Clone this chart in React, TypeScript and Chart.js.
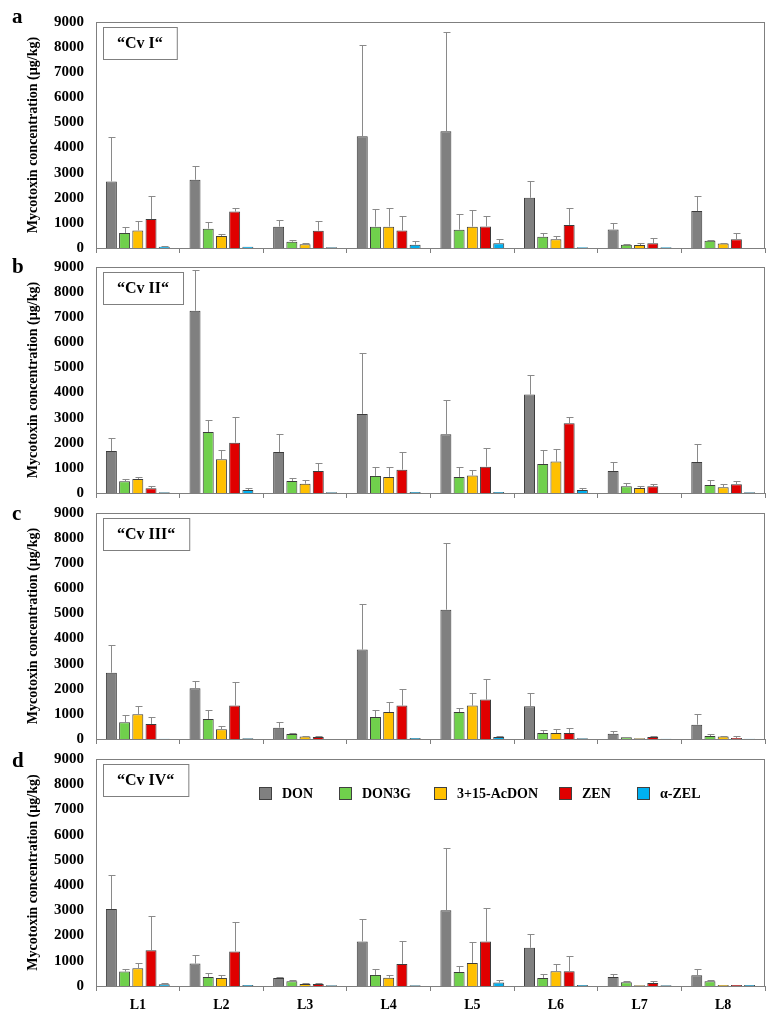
import React, { useEffect, useRef } from 'react';
import { Chart, registerables } from 'chart.js';

Chart.register(...registerables);

const FONT = '"Liberation Serif", "Times New Roman", serif';

// ---------- data ----------
const groups = ['L1', 'L2', 'L3', 'L4', 'L5', 'L6', 'L7', 'L8'];
const seriesNames = ['DON', 'DON3G', '3+15-AcDON', 'ZEN', '\u03b1-ZEL'];
const seriesColors = ['#808080', '#70D04C', '#FFC000', '#E00000', '#00B0F0'];
const yTicks = [0, 1000, 2000, 3000, 4000, 5000, 6000, 7000, 8000, 9000];

// Cv I (panel a): mean values and upper error-bar ends (µg/kg)
const cv1DON = [2650, 2720, 850, 4450, 4650, 2000, 740, 1470];
const cv1DONErr = [4420, 3280, 1130, 8070, 8600, 2670, 1010, 2060];
const cv1DON3G = [600, 770, 250, 850, 730, 450, 130, 290];
const cv1DON3GErr = [850, 1050, 305, 1570, 1370, 610, 160, 305];
const cv1AcDON = [700, 480, 150, 850, 850, 345, 120, 175];
const cv1AcDONErr = [1090, 570, 210, 1590, 1530, 490, 210, 190];
const cv1ZEN = [1150, 1450, 690, 700, 860, 920, 190, 345];
const cv1ZENErr = [2060, 1590, 1090, 1260, 1290, 1590, 385, 610];
const cv1ZEL = [50, 50, 27, 133, 186, 30, 30, 0];
const cv1ZELErr = [90, 50, 27, 290, 370, 30, 30, 0];

// Cv II (panel b)
const cv2DON = [1670, 7260, 1630, 3150, 2340, 3920, 880, 1235];
const cv2DONErr = [2200, 8900, 2340, 5560, 3700, 4680, 1250, 1940];
const cv2DON3G = [465, 2430, 480, 680, 640, 1155, 265, 320];
const cv2DON3GErr = [560, 2900, 585, 1040, 1040, 1710, 385, 505];
const cv2AcDON = [560, 1340, 370, 640, 700, 1250, 200, 225];
const cv2AcDONErr = [640, 1700, 505, 1050, 930, 1740, 280, 345];
const cv2ZEN = [185, 2005, 875, 930, 1050, 2775, 265, 345];
const cv2ZENErr = [290, 3030, 1180, 1620, 1805, 3015, 370, 480];
const cv2ZEL = [27, 120, 27, 40, 40, 120, 0, 27];
const cv2ZELErr = [27, 185, 27, 40, 40, 185, 0, 27];

// Cv III (panel c)
const cv3DON = [2640, 2020, 450, 3560, 5150, 1300, 210, 570];
const cv3DONErr = [3745, 2300, 665, 5390, 7810, 1820, 305, 985];
const cv3DON3G = [665, 800, 200, 875, 1075, 240, 65, 120];
const cv3DON3GErr = [945, 1140, 250, 1140, 1220, 345, 65, 185];
const cv3AcDON = [985, 385, 95, 1075, 1330, 240, 27, 95];
const cv3AcDONErr = [1330, 505, 120, 1460, 1820, 385, 27, 135];
const cv3ZEN = [600, 1330, 80, 1330, 1570, 240, 80, 40];
const cv3ZENErr = [890, 2260, 120, 1980, 2380, 425, 120, 105];
const cv3ZEL = [13, 27, 0, 40, 80, 27, 13, 13];
const cv3ZELErr = [13, 27, 0, 40, 105, 27, 13, 13];

// Cv IV (panel d)
const cv4DON = [3050, 890, 320, 1765, 3000, 1515, 360, 425];
const cv4DONErr = [4420, 1235, 370, 2655, 5470, 2070, 480, 665];
const cv4DON3G = [570, 360, 185, 440, 560, 320, 145, 185];
const cv4DON3GErr = [665, 505, 250, 665, 785, 465, 185, 250];
const cv4AcDON = [705, 320, 80, 330, 915, 585, 27, 40];
const cv4AcDONErr = [930, 425, 120, 450, 1740, 865, 27, 40];
const cv4ZEN = [1420, 1370, 80, 875, 1765, 585, 120, 40];
const cv4ZENErr = [2760, 2535, 120, 1765, 3080, 1180, 185, 40];
const cv4ZEL = [65, 40, 27, 27, 135, 40, 27, 40];
const cv4ZELErr = [135, 40, 27, 27, 250, 40, 27, 40];

const panelLetters = ['a', 'b', 'c', 'd'];
const panelLabels = ['\u201cCv I\u201c', '\u201cCv II\u201c', '\u201cCv III\u201c', '\u201cCv IV\u201c'];
const panelValues = [
  [cv1DON, cv1DON3G, cv1AcDON, cv1ZEN, cv1ZEL],
  [cv2DON, cv2DON3G, cv2AcDON, cv2ZEN, cv2ZEL],
  [cv3DON, cv3DON3G, cv3AcDON, cv3ZEN, cv3ZEL],
  [cv4DON, cv4DON3G, cv4AcDON, cv4ZEN, cv4ZEL],
];
const panelErrors = [
  [cv1DONErr, cv1DON3GErr, cv1AcDONErr, cv1ZENErr, cv1ZELErr],
  [cv2DONErr, cv2DON3GErr, cv2AcDONErr, cv2ZENErr, cv2ZELErr],
  [cv3DONErr, cv3DON3GErr, cv3AcDONErr, cv3ZENErr, cv3ZELErr],
  [cv4DONErr, cv4DON3GErr, cv4AcDONErr, cv4ZENErr, cv4ZELErr],
];

// ---------- layout ----------
const layout = [
  { top: 0, height: 270, xHeight: 22, letterDy: 1, showX: false, legend: false },
  { top: 245, height: 270, xHeight: 22, letterDy: 6, showX: false, legend: false },
  { top: 491, height: 270, xHeight: 22, letterDy: 7, showX: false, legend: false },
  { top: 737, height: 282, xHeight: 33, letterDy: 8, showX: true, legend: true },
];
const legendOffsets = [163, 243, 338, 463, 541];

const errorBarPlugin = {
  id: 'errorBars',
  afterDatasetsDraw(chart: any) {
    const ctx = chart.ctx;
    const yScale = chart.scales.y;
    ctx.save();
    ctx.strokeStyle = '#8a8a8a';
    ctx.lineWidth = 1;
    chart.data.datasets.forEach((ds: any, di: number) => {
      const meta = chart.getDatasetMeta(di);
      meta.data.forEach((bar: any, i: number) => {
        const top = ds.errorTops[i];
        if (top == null || top <= ds.data[i]) return;
        const x = Math.round(bar.x) + 0.5;
        const y1 = Math.round(yScale.getPixelForValue(top)) + 0.5;
        ctx.beginPath();
        ctx.moveTo(x, bar.y);
        ctx.lineTo(x, y1);
        ctx.moveTo(x - 3, y1);
        ctx.lineTo(x + 4, y1);
        ctx.stroke();
      });
    });
    ctx.restore();
  },
};

const decorPlugin = {
  id: 'panelDecor',
  beforeDatasetsDraw(chart: any) {
    const { ctx, chartArea } = chart;
    ctx.save();
    ctx.strokeStyle = '#7f7f7f';
    ctx.lineWidth = 1;
    ctx.strokeRect(chartArea.left + 0.5, chartArea.top + 0.5, chartArea.right - chartArea.left - 1, chartArea.bottom - chartArea.top);
    ctx.restore();
  },
  afterDraw(chart: any, _args: any, opts: any) {
    const { ctx, chartArea } = chart;
    ctx.save();
    // panel letter
    ctx.fillStyle = '#000';
    ctx.font = 'bold 21px ' + FONT;
    ctx.textBaseline = 'alphabetic';
    ctx.textAlign = 'left';
    ctx.fillText(opts.letter, 12, chartArea.top + opts.letterDy);
    // boxed cultivar label
    ctx.font = 'bold 16px ' + FONT;
    const w = ctx.measureText(opts.label).width + 28;
    const bx = chartArea.left + 7;
    const by = chartArea.top + 5;
    ctx.fillStyle = '#fff';
    ctx.fillRect(bx, by, w, 32);
    ctx.strokeStyle = '#7f7f7f';
    ctx.strokeRect(bx + 0.5, by + 0.5, w, 32);
    ctx.fillStyle = '#000';
    ctx.textAlign = 'center';
    ctx.textBaseline = 'middle';
    ctx.fillText(opts.label, bx + w / 2, by + 17);
    // legend
    if (opts.legend) {
      ctx.font = 'bold 14px ' + FONT;
      ctx.textAlign = 'left';
      chart.data.datasets.forEach((ds: any, i: number) => {
        const sx = chartArea.left + legendOffsets[i];
        const sy = chartArea.top + 28;
        ctx.fillStyle = ds.backgroundColor;
        ctx.fillRect(sx, sy, 13, 13);
        ctx.strokeStyle = '#404040';
        ctx.strokeRect(sx + 0.5, sy + 0.5, 12, 12);
        ctx.fillStyle = '#000';
        ctx.fillText(ds.label, sx + 23, sy + 7);
      });
    }
    ctx.restore();
  },
};

export default function App() {
  const refs = useRef<(HTMLCanvasElement | null)[]>([]);

  useEffect(() => {
    const charts = layout.map((lay, pi) => {
      const canvas = refs.current[pi] as HTMLCanvasElement;
      const datasets = seriesNames.map((name, si) => ({
        label: name,
        data: panelValues[pi][si],
        errorTops: panelErrors[pi][si],
        backgroundColor: seriesColors[si],
        borderColor: '#3c3c3c',
        borderWidth: 1,
        categoryPercentage: 0.79,
        barPercentage: 0.83,
      }));
      return new Chart(canvas, {
        type: 'bar',
        data: { labels: groups, datasets },
        options: {
          responsive: false,
          animation: false,
          devicePixelRatio: 1,
          layout: { padding: { top: 22, right: 11, left: 0, bottom: 0 } },
          plugins: {
            legend: { display: false },
            tooltip: { enabled: false },
            panelDecor: {
              letter: panelLetters[pi],
              label: panelLabels[pi],
              letterDy: lay.letterDy,
              legend: lay.legend,
            },
          } as any,
          scales: {
            x: {
              type: 'category',
              offset: true,
              border: { display: false },
              grid: {
                display: true,
                drawOnChartArea: false,
                drawTicks: true,
                tickLength: 5,
                offset: true,
                color: '#7f7f7f',
              },
              ticks: {
                display: lay.showX,
                color: '#000',
                padding: 6,
                font: { family: FONT, size: 14, weight: 'bold' },
              },
              afterFit: (scale: any) => {
                scale.height = lay.xHeight;
              },
            },
            y: {
              min: 0,
              max: 9000,
              border: { display: false },
              grid: { display: false, drawTicks: false },
              afterBuildTicks: (scale: any) => {
                scale.ticks = yTicks.map((v) => ({ value: v }));
              },
              ticks: {
                color: '#000',
                padding: 12,
                callback: (v: any) => String(v),
                font: { family: FONT, size: 15, weight: 'bold' },
              },
              title: {
                display: true,
                text: 'Mycotoxin concentration (\u00b5g/kg)',
                color: '#000',
                padding: { top: 25, bottom: 0 },
                font: { family: FONT, size: 14, weight: 'bold' },
              },
              afterFit: (scale: any) => {
                scale.width = 96;
              },
            },
          },
        } as any,
        plugins: [errorBarPlugin, decorPlugin],
      });
    });
    return () => charts.forEach((c) => c.destroy());
  }, []);

  return (
    <div style={{ position: 'absolute', left: 0, top: 0, width: 776, height: 1019, background: '#fff' }}>
      {layout.map((lay, i) => (
        <canvas
          key={i}
          ref={(el) => {
            refs.current[i] = el;
          }}
          width={776}
          height={lay.height}
          style={{ position: 'absolute', left: 0, top: lay.top, width: 776, height: lay.height }}
        />
      ))}
    </div>
  );
}
